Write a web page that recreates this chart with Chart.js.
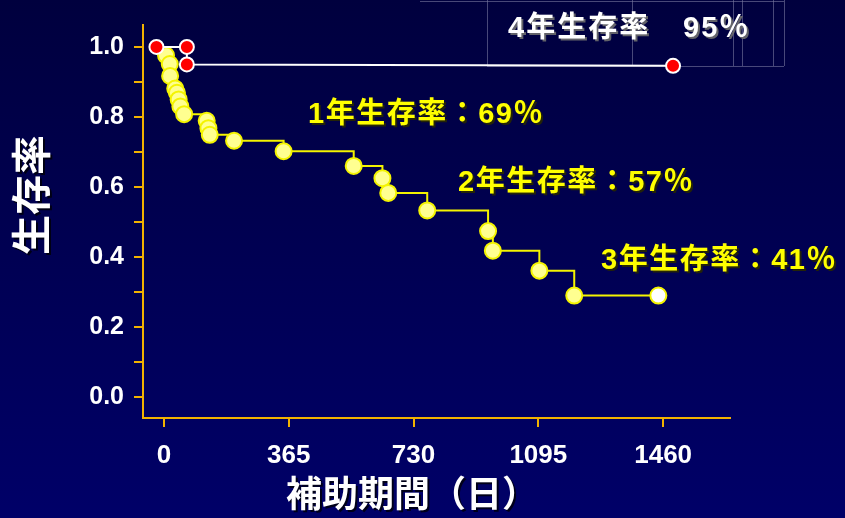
<!DOCTYPE html>
<html>
<head>
<meta charset="utf-8">
<script src="https://cdn.jsdelivr.net/npm/chart.js@4"></script>
<style>
  html, body { margin: 0; padding: 0; background: #000050; }
  canvas { display: block; }
</style>
</head>
<body>
<canvas id="chart" width="845" height="518"></canvas>
<script>
/* ── 데이터 ─────────────────────────────────────────── */
// 黄色: 全体の生存曲線 (イベント時点)
const yellowDays = [0, 6, 17, 18, 33, 38, 43, 48, 59, 125, 130, 134, 205, 350, 555, 639, 656, 770, 948, 962, 1098, 1200, 1446];
const yellowSurv = [1.0, 0.976, 0.951, 0.917, 0.881, 0.869, 0.850, 0.830, 0.808, 0.789, 0.768, 0.749, 0.732, 0.702, 0.660, 0.625, 0.583, 0.533, 0.474, 0.418, 0.361, 0.290, 0.290];

// 赤: 4年生存率 95%
const redDays = [-22, 67, 67, 1489];
const redSurv = [1.0, 1.0, 0.950, 0.946];

const xTicks = [0, 365, 730, 1095, 1460];
const yTicks = [0, 0.1, 0.2, 0.3, 0.4, 0.5, 0.6, 0.7, 0.8, 0.9, 1.0];

const yTitle = '生存率';
const xTitle = '補助期間（日）';
const rateLabels = ['1年生存率：69％', '2年生存率：57％', '3年生存率：41％'];
const topLabel = ['4年生存率', '95％'];

/* ── 색상 ─────────────────────────────────────────── */
const AXIS_COLOR = '#f2b200';
const YELLOW     = '#f4f400';
const YELLOW_FILL = '#ffff90';
const FONT = "'Liberation Sans', 'Noto Sans CJK JP', sans-serif";

/* 배경 + 텍스트 그리기 플러그인 */
const decor = {
  id: 'decor',
  beforeDraw(chart) {
    const { ctx, width, height } = chart;
    const g = ctx.createLinearGradient(0, 0, 0, height);
    g.addColorStop(0, '#00003e');
    g.addColorStop(1, '#000068');
    ctx.save();
    ctx.fillStyle = g;
    ctx.fillRect(0, 0, width, height);

    // 右上の薄い枠線
    ctx.strokeStyle = 'rgba(120,120,160,0.6)';
    ctx.lineWidth = 1;
    ctx.beginPath();
    ctx.moveTo(420, 1.5); ctx.lineTo(784, 1.5);
    ctx.moveTo(487, 66.5); ctx.lineTo(784, 66.5);
    [487, 632, 733, 742, 773, 784].forEach(x => {
      ctx.moveTo(x + 0.5, 0); ctx.lineTo(x + 0.5, 66);
    });
    ctx.stroke();
    ctx.restore();
  },
  afterDraw(chart) {
    const { ctx } = chart;
    ctx.save();
    ctx.shadowColor = 'rgba(0,0,0,0.75)';
    ctx.shadowOffsetX = 2;
    ctx.shadowOffsetY = 2;

    // 軸タイトル
    ctx.fillStyle = '#ffffff';
    ctx.font = 'bold 36px ' + FONT;
    ctx.textAlign = 'center';
    ctx.textBaseline = 'top';
    ctx.fillText(xTitle, 412, 479);

    ctx.save();
    ctx.translate(35, 195);
    ctx.rotate(-Math.PI / 2);
    ctx.font = 'bold 40px ' + FONT;
    ctx.textBaseline = 'middle';
    ctx.fillText(yTitle, 0, 0);
    ctx.restore();

    // 4年生存率
    ctx.shadowColor = 'rgba(110,110,110,0.9)';
    ctx.font = 'bold 29px ' + FONT;
    ctx.letterSpacing = '2px';
    ctx.textAlign = 'left';
    ctx.textBaseline = 'middle';
    ctx.fillText(topLabel[0], 508, 29);
    ctx.fillText(topLabel[1], 683, 29);

    // 黄色ラベル
    ctx.shadowColor = 'rgba(40,40,0,0.9)';
    ctx.fillStyle = '#ffff00';
    ctx.letterSpacing = '1.5px';
    const pos = [[308, 115], [458, 183], [601, 261]];
    rateLabels.forEach((t, i) => ctx.fillText(t, pos[i][0], pos[i][1]));
    ctx.restore();
  }
};

new Chart(document.getElementById('chart'), {
  type: 'line',
  data: {
    datasets: [
      {
        label: '4年',
        data: redDays.map((d, i) => ({ x: d, y: redSurv[i] })),
        borderColor: '#ffffff',
        borderWidth: 2,
        pointRadius: 7,
        pointBackgroundColor: '#ff0000',
        pointBorderColor: '#ffffff',
        pointBorderWidth: 2,
        tension: 0,
      },
      {
        label: '全体',
        data: yellowDays.map((d, i) => ({ x: d, y: yellowSurv[i] })),
        stepped: true,
        borderColor: YELLOW,
        borderWidth: 2,
        pointRadius: ctx => ctx.dataIndex === 0 ? 0 : 8,
        pointBackgroundColor: ctx => ctx.dataIndex === yellowDays.length - 1 ? '#ffffff' : YELLOW_FILL,
        pointBorderColor: YELLOW,
        pointBorderWidth: 2,
      }
    ]
  },
  options: {
    responsive: false,
    animation: false,
    layout: { padding: { left: 0, right: 115, top: 23, bottom: 0 } },
    plugins: {
      legend: { display: false },
      tooltip: { enabled: false }
    },
    scales: {
      x: {
        type: 'linear',
        min: -61.3,
        max: 1655.6,
        afterBuildTicks: s => { s.ticks = xTicks.map(v => ({ value: v })); },
        afterFit: s => { s.height = 100; },
        grid: { drawOnChartArea: false, drawTicks: true, tickLength: 9, color: AXIS_COLOR, lineWidth: 2 },
        border: { color: AXIS_COLOR, width: 2 },
        ticks: {
          color: '#ffffff',
          padding: 13,
          font: { family: FONT, size: 26, weight: 'bold' },
          callback: v => String(v)
        }
      },
      y: {
        min: -0.0597,
        max: 1.0625,
        afterBuildTicks: s => { s.ticks = yTicks.map(v => ({ value: v })); },
        afterFit: s => { s.width = 143; },
        grid: { drawOnChartArea: false, drawTicks: true, tickLength: 9, color: AXIS_COLOR, lineWidth: 2 },
        border: { color: AXIS_COLOR, width: 2 },
        ticks: {
          color: '#ffffff',
          padding: 10,
          font: { family: FONT, size: 25, weight: 'bold' },
          callback: v => (Math.round(v * 10) % 2 === 0 ? v.toFixed(1) : '')
        }
      }
    }
  },
  plugins: [decor]
});
</script>
</body>
</html>
